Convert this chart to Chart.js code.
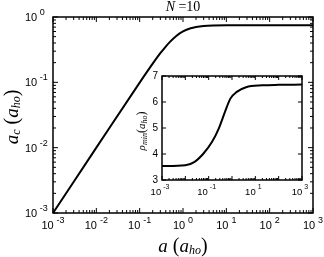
<!DOCTYPE html>
<html>
<head>
<meta charset="utf-8">
<script src="https://cdn.jsdelivr.net/npm/chart.js@4"></script>
<style>
  html, body { margin: 0; padding: 0; background: #fff; }
  #wrap { position: relative; width: 324px; height: 257px; }
  #main { position: absolute; left: 0; top: 0; }
  #inset { position: absolute; left: 130px; top: 66px; }
</style>
</head>
<body>
<div id="wrap">
  <canvas id="main" width="324" height="257"></canvas>
  <canvas id="inset" width="180" height="140"></canvas>
</div>
<script>
// main panel: a_c against a (both in a_ho), N = 10
const aMain = [0.001, 0.01, 0.1, 0.2, 0.3, 0.4, 0.5, 0.7, 1, 1.5, 2, 3, 5, 10, 100, 1000];
const acMain = [0.001, 0.01, 0.099, 0.193, 0.279, 0.353, 0.416, 0.512, 0.6, 0.671, 0.702, 0.728, 0.742, 0.748, 0.75, 0.75];

// inset: rho_min against a
const aInset = [0.001, 0.01, 0.025, 0.06, 0.14, 0.27, 0.5, 0.85, 1.6, 4, 20, 100, 1000];
const rhoInset = [3.54, 3.57, 3.70, 4.02, 4.47, 4.98, 5.62, 6.13, 6.39, 6.57, 6.64, 6.66, 6.67];

// ticks
const mainXExps = [-3, -2, -1, 0, 1, 2, 3];
const mainYExps = [-3, -2, -1, 0];
const insetXExps = [-3, -2, -1, 0, 1, 2, 3];
const insetXLabelExps = [-3, -1, 1, 3];
const insetYTicks = [3, 4, 5, 6, 7];

const SANS = '"Liberation Sans", Arial, sans-serif';
const SERIF = '"Liberation Serif", "Times New Roman", serif';

function pts(xs, ys) {
  return xs.map((x, i) => ({ x: x, y: ys[i] }));
}

function minorLog(exps) {
  const out = [];
  for (let i = 0; i < exps.length - 1; i++) {
    for (let m = 2; m <= 9; m++) out.push(m * Math.pow(10, exps[i]));
  }
  return out;
}

// "10" with raised exponent
function powLabel(ctx, exp, x, y, align, fs, es, rise, gap) {
  ctx.font = fs + 'px ' + SANS;
  const w1 = ctx.measureText('10').width;
  ctx.font = es + 'px ' + SANS;
  const w2 = ctx.measureText(String(exp)).width;
  const tot = w1 + gap + w2;
  let x0 = x;
  if (align === 'center') x0 = x - tot / 2;
  if (align === 'right') x0 = x - tot;
  ctx.textAlign = 'left';
  ctx.textBaseline = 'middle';
  ctx.font = fs + 'px ' + SANS;
  ctx.fillText('10', x0, y);
  ctx.font = es + 'px ' + SANS;
  ctx.fillText(String(exp), x0 + w1 + gap, y - rise);
}

// parts: [text, size, italic, dy]
function rich(ctx, parts, cx, cy, rot) {
  ctx.save();
  ctx.translate(cx, cy);
  if (rot) ctx.rotate(rot);
  ctx.textAlign = 'left';
  ctx.textBaseline = 'middle';
  let tot = 0;
  const ws = parts.map(p => {
    ctx.font = (p[2] ? 'italic ' : '') + p[1] + 'px ' + SERIF;
    const w = ctx.measureText(p[0]).width;
    tot += w;
    return w;
  });
  let x = -tot / 2;
  parts.forEach((p, i) => {
    ctx.font = (p[2] ? 'italic ' : '') + p[1] + 'px ' + SERIF;
    ctx.fillText(p[0], x, p[3]);
    x += ws[i];
  });
  ctx.restore();
}

function tickLine(ctx, x1, y1, x2, y2) {
  ctx.beginPath();
  ctx.moveTo(x1, y1);
  ctx.lineTo(x2, y2);
  ctx.stroke();
}

const mainDecor = {
  id: 'mainDecor',
  afterDraw(chart) {
    const ctx = chart.ctx;
    const a = chart.chartArea;
    const xs = chart.scales.x, ys = chart.scales.y;
    ctx.save();
    ctx.strokeStyle = '#000';
    ctx.fillStyle = '#000';
    ctx.lineWidth = 1;
    mainXExps.forEach(e => {
      const px = xs.getPixelForValue(Math.pow(10, e));
      tickLine(ctx, px, a.bottom, px, a.bottom - 5);
      tickLine(ctx, px, a.top, px, a.top + 5);
    });
    minorLog(mainXExps).forEach(v => {
      const px = xs.getPixelForValue(v);
      tickLine(ctx, px, a.bottom, px, a.bottom - 3);
      tickLine(ctx, px, a.top, px, a.top + 3);
    });
    mainYExps.forEach(e => {
      const py = ys.getPixelForValue(Math.pow(10, e));
      tickLine(ctx, a.left, py, a.left + 5, py);
      tickLine(ctx, a.right, py, a.right - 5, py);
    });
    minorLog(mainYExps).forEach(v => {
      const py = ys.getPixelForValue(v);
      tickLine(ctx, a.left, py, a.left + 3, py);
      tickLine(ctx, a.right, py, a.right - 3, py);
    });
    ctx.lineWidth = 1.5;
    ctx.strokeRect(a.left, a.top, a.right - a.left, a.bottom - a.top);

    mainXExps.forEach(e => {
      powLabel(ctx, e, xs.getPixelForValue(Math.pow(10, e)), a.bottom + 13, 'center', 11, 9, 5.5, 3);
    });
    mainYExps.forEach(e => {
      powLabel(ctx, e, a.left - 28, ys.getPixelForValue(Math.pow(10, e)) + 1, 'left', 11, 9, 5.5, 2.5);
    });

    rich(ctx, [['N', 14, true, 0], [' =10', 14, false, 0]], (a.left + a.right) / 2, 7);
    rich(ctx, [['a', 19, true, 0], [' (', 20, false, 0], ['a', 19, true, 0], ['ho', 12, true, 4], [')', 20, false, 0]],
      (a.left + a.right) / 2, 247);
    rich(ctx, [['a', 19, true, 0], ['c', 12, true, 4], [' (', 20, false, 0], ['a', 19, true, 0], ['ho', 12, true, 4], [')', 20, false, 0]],
      13, (a.top + a.bottom) / 2 + 2, -Math.PI / 2);
    ctx.restore();
  }
};

const insetDecor = {
  id: 'insetDecor',
  afterDraw(chart) {
    const ctx = chart.ctx;
    const a = chart.chartArea;
    const xs = chart.scales.x, ys = chart.scales.y;
    ctx.save();
    ctx.strokeStyle = '#000';
    ctx.fillStyle = '#000';
    ctx.lineWidth = 1;
    insetXExps.forEach(e => {
      const px = xs.getPixelForValue(Math.pow(10, e));
      tickLine(ctx, px, a.bottom, px, a.bottom - 4);
      tickLine(ctx, px, a.top, px, a.top + 4);
    });
    minorLog(insetXExps).forEach(v => {
      const px = xs.getPixelForValue(v);
      tickLine(ctx, px, a.bottom, px, a.bottom - 2);
      tickLine(ctx, px, a.top, px, a.top + 2);
    });
    insetYTicks.forEach(t => {
      const py = ys.getPixelForValue(t);
      tickLine(ctx, a.left, py, a.left + 4, py);
      tickLine(ctx, a.right, py, a.right - 4, py);
    });
    ctx.lineWidth = 1.5;
    ctx.strokeRect(a.left, a.top, a.right - a.left, a.bottom - a.top);

    insetXLabelExps.forEach(e => {
      powLabel(ctx, e, xs.getPixelForValue(Math.pow(10, e)) - 2, a.bottom + 12, 'center', 9.5, 7, 4.5, 2);
    });
    ctx.font = '10px ' + SANS;
    ctx.textAlign = 'right';
    ctx.textBaseline = 'middle';
    insetYTicks.forEach(t => {
      ctx.fillText(String(t), a.left - 4, ys.getPixelForValue(t));
    });
    rich(ctx, [['\u03c1', 11, true, 0], ['min', 8, true, 3], ['(', 12, false, 0], ['a', 11, true, 0], ['ho', 8, true, 3], [')', 12, false, 0]],
      12, (a.top + a.bottom) / 2 + 3, -Math.PI / 2);
    ctx.restore();
  }
};

function lineOptions(pad, yType, yMin, yMax) {
  return {
    responsive: false,
    animation: false,
    layout: { padding: pad },
    plugins: { legend: { display: false }, tooltip: { enabled: false } },
    scales: {
      x: { type: 'logarithmic', min: 1e-3, max: 1e3, display: false },
      y: { type: yType, min: yMin, max: yMax, display: false }
    }
  };
}

new Chart(document.getElementById('main').getContext('2d'), {
  type: 'line',
  data: {
    datasets: [{
      data: pts(aMain, acMain),
      borderColor: '#000',
      borderWidth: 2,
      pointRadius: 0,
      cubicInterpolationMode: 'monotone',
      fill: false
    }]
  },
  options: lineOptions({ left: 53, right: 11, top: 17, bottom: 44 }, 'logarithmic', 1e-3, 1),
  plugins: [mainDecor]
});

new Chart(document.getElementById('inset').getContext('2d'), {
  type: 'line',
  data: {
    datasets: [{
      data: pts(aInset, rhoInset),
      borderColor: '#000',
      borderWidth: 2,
      pointRadius: 0,
      cubicInterpolationMode: 'monotone',
      fill: false
    }]
  },
  options: lineOptions({ left: 32, right: 8, top: 10, bottom: 26 }, 'linear', 3, 7),
  plugins: [insetDecor]
});
</script>
</body>
</html>
